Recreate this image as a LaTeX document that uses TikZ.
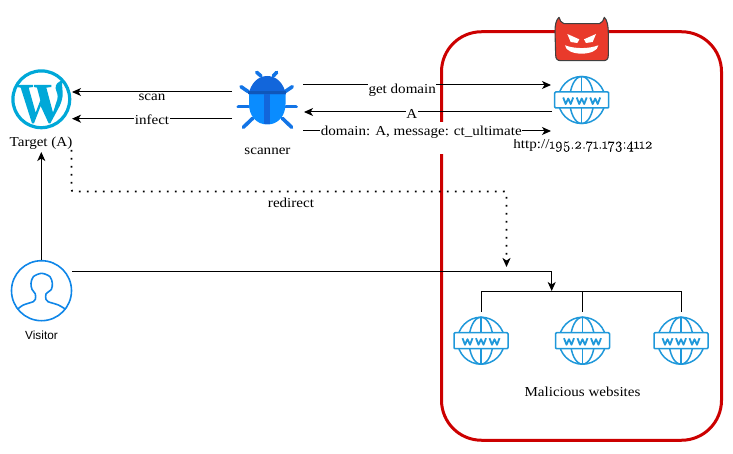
\documentclass[tikz,border=0pt]{standalone}
\usepackage{fontspec}
\setmainfont[FakeStretch=1.1]{Liberation Serif}
\setsansfont{Liberation Sans}
\newfontfamily\onum[Numbers=OldStyle,FakeBold=0.25]{Latin Modern Roman}
\usetikzlibrary{arrows.meta}
\definecolor{wwwblue}{HTML}{1F98DA}
\definecolor{wpblue}{HTML}{00A8D8}
\definecolor{userblue}{HTML}{0F86E8}
\definecolor{bugdark}{HTML}{1266DB}
\definecolor{bugleg}{HTML}{1274E6}
\definecolor{buglight}{HTML}{0A8CFF}
\definecolor{boxred}{HTML}{CC0000}
\definecolor{devilred}{HTML}{E93A2B}
\tikzset{
  >={Stealth[length=9pt,width=8pt,inset=2.5pt]},
  x=1pt,y=-1pt,
  conn/.style={draw=black,line width=1pt},
  connlabel/.style={fill=white,inner sep=0.5pt,font=\fontsize{13.7}{14}\selectfont},
  caption/.style={inner sep=0pt,font=\fontsize{13.7}{14}\selectfont},
  iconbox/.style={inner sep=0pt,minimum width=#1,minimum height=#1},
  wwwicon/.pic={
    \begin{scope}[draw=wwwblue,line width=1.5pt,line join=round]
      \draw (0,0) circle[radius=23.5];
      \draw (0,0) ellipse[x radius=12,y radius=23.5];
      \draw (0,-23.5) -- (0,23.5);
      \draw[fill=white,rounded corners=1pt] (-27,-8) rectangle (27,8);
      \draw[line width=1.8pt] (-18.5,-2.5) -- (-16,4) -- (-13.5,-1.5) -- (-11,4) -- (-8.5,-2.5);
      \draw[line width=1.8pt] (-5,-2.5) -- (-2.5,4) -- (0,-1.5) -- (2.5,4) -- (5,-2.5);
      \draw[line width=1.8pt] (8.5,-2.5) -- (11,4) -- (13.5,-1.5) -- (16,4) -- (18.5,-2.5);
    \end{scope}
  }
}
\begin{document}
\begin{tikzpicture}
\useasboundingbox (0,0) rectangle (733,454);
% evil zone
\node (zone) [draw=boxred,line width=3pt,rounded corners=40pt,minimum width=280pt,minimum height=408.5pt,inner sep=0pt] at (581.5,236) {};
\fill[white] (436,122) rectangle (447,154);
% icon anchors
\node (wp) [iconbox=60pt] at (41.3,99.3) {};
\node (bug) [iconbox=60pt] at (267.3,100) {};
\node (visitor) [iconbox=60pt] at (41.5,290.7) {};
\node (c2) [iconbox=47pt] at (581.7,100) {};
\node (w1) [iconbox=47pt] at (481,340.7) {};
\node (w2) [iconbox=47pt] at (582.5,340.7) {};
\node (w3) [iconbox=47pt] at (681,340.7) {};
\node (devil) [iconbox=46pt] at (581,40) {};
\pic at (c2) {wwwicon};
\pic at (w1) {wwwicon};
\pic at (w2) {wwwicon};
\pic at (w3) {wwwicon};
% WordPress
\draw[wpblue,line width=3.2pt] (wp) circle[radius=28.4];
\begin{scope}[shift={(8,66)},x=0.33333pt,y=-0.33333pt]
 \fill[wpblue] (27,57) -- (75,57) -- (75,63) -- (62,65) -- (83,140) -- (97,103) -- (87,65) -- (78,63) -- (78,57) -- (130,57) -- (130,63) -- (115,65) -- (135,140) -- (148,100) .. controls (151,88) and (146,78) .. (143,68) .. controls (141,55) and (150,47) .. (165,42) .. controls (160,50) and (163,60) .. (164,80) .. controls (165,95) and (160,108) .. (155,120) -- (127,172) -- (122,172) -- (98,120) -- (78,172) -- (72,172) -- (38,65) -- (27,63) -- cycle;
\end{scope}
% bug
\begin{scope}[line cap=round,line width=3.6pt,draw=bugleg]
 \draw (256.7,72.3) -- (261,76);
 \draw (276.7,72.3) -- (273.3,76);
 \draw (241,86.7) -- (248.3,91.7);
 \draw (292.3,86.7) -- (285,91.7);
 \draw (238.3,106.7) -- (248.3,106.7);
 \draw (286,106.7) -- (296,106.7);
 \draw (243.3,127.3) -- (252.7,118.3);
 \draw (291.7,127.3) -- (282.3,118.3);
\end{scope}
\fill[buglight] (249,92) -- (285.5,92) -- (285.5,104) .. controls (285.5,116) and (278,124.5) .. (267.3,124.5) .. controls (256.5,124.5) and (249,116) .. (249,104) -- cycle;
\fill[bugdark] (248.5,94.3) .. controls (251,83) and (258,76) .. (267.3,76) .. controls (276.5,76) and (283.5,83) .. (286,94.3) -- cycle;
\fill[bugdark!85!black] (248.3,91) -- (286.2,91) -- (286.2,94.3) -- (248.3,94.3) -- cycle;
\fill[bugdark] (264.4,94) -- (270.2,94) -- (270.2,124.3) -- (264.4,124.3) -- cycle;
% visitor
\draw[userblue,line width=1.6pt] (visitor) circle[radius=30];
\begin{scope}[shift={(0,250)},x=0.33333pt,y=-0.33333pt,line width=1.6pt,draw=userblue]
 \draw plot[smooth,tension=0.5] coordinates {(52,178) (70,165) (100,155) (106,148) (106,132) (96,118) (93,100) (100,80) (125,70) (150,80) (157,100) (154,118) (138,132) (138,148) (144,155) (175,165) (197,178)};
\end{scope}
% devil
\begin{scope}[shift={(550,10)},x=0.33333pt,y=-0.33333pt]
 \fill[devilred,draw=black!75,line width=1.1pt,line join=round] (27,22) .. controls (30,32) and (33,38) .. (42,41) -- (148,41) .. controls (157,38) and (160,32) .. (163,22) .. controls (172,30) and (175,50) .. (175,70) -- (175,135) .. controls (175,147) and (170,152) .. (160,152) -- (33,152) .. controls (22,152) and (17,147) .. (17,135) -- (15,65) .. controls (15,45) and (18,30) .. (27,22) -- cycle;
 \fill[white] (52,72) -- (88,88) -- (82,99) -- (62,96) -- cycle;
 \fill[white] (138,72) -- (102,88) -- (108,99) -- (128,96) -- cycle;
 \fill[white] (45,106) .. controls (75,117) and (115,117) .. (145,106) .. controls (144,122) and (120,131) .. (95,131) .. controls (70,131) and (46,122) .. (45,106) -- cycle;
\end{scope}
% captions
\node (lt) [caption] at (41,143.5) {Target (A)};
\node (ls) [caption] at (267.5,151.5) {scanner};
\node (lv) [inner sep=0pt,font=\sffamily\fontsize{11.8}{12}\selectfont] at (41.5,335) {Visitor};
\node (lu) [caption] at (583,145.5) {http://{\onum\fontsize{15}{16}\selectfont 195.2.71.173:4112}};
\node (lm) [caption] at (582.5,392) {Malicious websites};
% ports
\coordinate (scanS) at (232,92);
\coordinate (scanT) at (72,92);
\coordinate (infS) at (232,118.7);
\coordinate (infT) at (72,118.7);
\coordinate (gdS) at (303,85);
\coordinate (gdT) at (551,85);
\coordinate (aS) at (552,112);
\coordinate (aT) at (304,112);
\coordinate (dmS) at (303,131);
\coordinate (dmT) at (551,131);
\coordinate (rdS) at (71.5,150);
\coordinate (rd1) at (71.5,191.5);
\coordinate (rd2) at (506.5,191.5);
\coordinate (rdT) at (506.5,267);
\coordinate (vaS) at (41.3,260);
\coordinate (vaT) at (41.3,152);
\coordinate (vwS) at (72,271.3);
\coordinate (vw1) at (551.7,271.3);
\coordinate (vwT) at (551.7,291);
\coordinate (trL) at (481.3,311.7);
\coordinate (trLt) at (481.3,291.5);
\coordinate (trRt) at (681,291.5);
\coordinate (trR) at (681,311.7);
\coordinate (trM) at (582.7,311.7);
\coordinate (trMt) at (582.7,291.5);
% connectors
\draw[conn,->] (scanS) -- node[connlabel,pos=0.5,yshift=-5pt] {scan} (scanT);
\draw[conn,->] (infS) -- node[connlabel,yshift=-1.5pt] {infect} (infT);
\draw[conn,->] (gdS) -- node[connlabel,pos=0.4,yshift=-5pt] {get domain} (gdT);
\draw[conn,->] (aS) -- node[connlabel,pos=0.565,yshift=-1.5pt] {A} (aT);
\draw[conn,->] (dmS) -- node[connlabel,pos=0.477,yshift=-1pt] {domain: A, message: ct\_ultimate} (dmT);
\draw[conn,->] (vaS) -- (vaT);
\draw[draw=black,line width=1.7pt,dash pattern=on 1.7pt off 6.3pt,rounded corners=2pt,->] (rdS) -- (rd1) -- (rd2) -- (rdT);
\node (lr) [connlabel] at (291,202.5) {redirect};
\draw[conn,->] (vwS) -- (vw1) -- (vwT);
\draw[conn] (trL) -- (trLt) -- (trRt) -- (trR);
\draw[conn] (trMt) -- (trM);
\end{tikzpicture}
\end{document}
